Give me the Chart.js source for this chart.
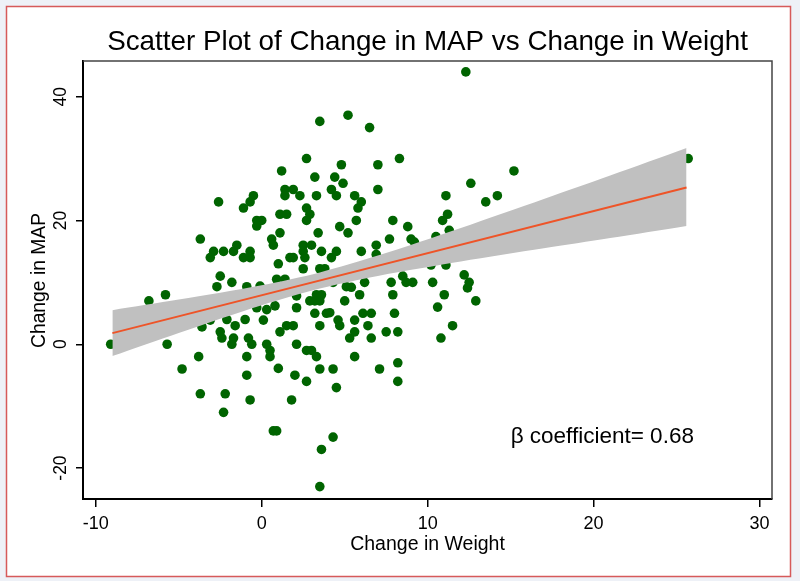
<!DOCTYPE html>
<html><head><meta charset="utf-8">
<script src="https://cdn.jsdelivr.net/npm/chart.js@4.4.0/dist/chart.umd.min.js"></script>
<style>html,body{margin:0;padding:0;background:#eef1f7;overflow:hidden}canvas{display:block}</style>
</head><body>
<canvas id="c" width="800" height="581"></canvas>
<script>
// ---- data ----
const weightChange = [
  3.5, 5.2, 6.5, 2.7, 4.8, 7.0, 8.3, 1.2, 3.2, 4.4, 4.9, 4.2, 4.5, 7.0, 1.4, 1.9, 1.4, 2.3, 3.3, 5.6,
  6.0, 5.8, -0.5, -0.7, -1.1, -2.6, 2.7, 2.9, 1.1, 1.5, 2.7, 5.7, 7.9, -0.3, 0.0, -0.3, 4.7, 5.2, 3.4, 1.1,
  0.6, 0.7, -3.7, 7.7, 6.9, 2.5, 3.0, -2.9, -2.3, -1.5, -1.7, -0.7, -1.1, -0.7, -3.1, 2.5, 3.6, 4.5, 4.2, 6.0,
  1.0, 1.7, 1.9, 2.6, 2.5, 3.5, 3.8, -2.5, -1.8, 6.2, 7.8, 0.9, 1.4, -2.7, -0.9, 5.1, 15.2, 12.6, 11.1, 14.2,
  13.5, 11.2, 10.9, 8.8, 9.0, 9.2, 11.3, 10.5, 12.3, 25.7, 10.2, 11.1, 12.2, 12.5, 10.3, 9.1, 8.5, 12.4, -9.1, -6.8,
  -5.8, -5.7, -4.8, -3.8, -3.7, -3.6, -3.1, -2.5, -2.4, -2.2, -2.3, -2.1, -1.8, -1.7, -1.6, -1.0, -0.9, -0.9, -0.8, -0.6,
  -0.7, 0.1, -0.3, 0.3, 0.5, 0.5, 1.0, 1.1, 1.5, 1.9, 0.7, 0.9, 1.8, 2.0, 2.1, 2.1, 2.7, 2.7, 3.0, 3.3,
  3.5, 3.5, 3.2, 3.9, 3.6, 3.5, 4.3, 4.3, 4.5, 4.6, 4.7, 5.0, 5.3, 5.6, 5.6, 5.6, 6.1, 6.6, 6.4, 6.6,
  5.9, 7.5, 7.1, 7.9, 8.0, 8.2, 8.2, 8.2, 11.0, 12.9, 10.6, 11.5, 10.8, 8.7, 5.4, 4.3, 4.1, -0.1, 2.1, 2.9,
  3.2, 3.5, 3.3, 3.6, 0.3, 0.8, 6.9
];
const mapChange = [
  36, 37, 35, 30, 29, 29, 30, 28, 27, 27, 26, 25, 24, 25, 25, 25, 24, 24, 24, 24,
  23, 22, 24, 23, 22, 23, 22, 21, 21, 21, 20, 20, 20, 20, 20, 19.1, 19, 18, 18, 18,
  17, 16, 17, 17, 16, 16, 16, 15, 15, 16, 15, 15, 14, 14, 14, 15, 15, 15, 14, 15,
  13, 14, 14, 14, 12.2, 12.2, 12.2, 11, 10, 10, 10, 10.5, 10.5, 9.3, 9.3, 9.3, 28, 26, 24, 24,
  23, 21, 20, 19, 17, 16.5, 18.4, 17.4, 44, 30, 12.8, 12.8, 11.2, 10, 10, 10, 11, 9.1, 0, 7,
  8, 0, -4, -2, -8, 2.8, 3.9, 2, 1, -8, -11, 4, 0, 1, 3, 4, -2, -5, 1, 0,
  -9, 3.9, 5.9, 0, -1, -2, -3.9, 2, 3, 3, -14, -14, -9, -5, 0, 5.9, -6, -1, -1, -2,
  -4, 3, 5, 5, -17, -23, -15, -4, -7, 3.9, 3, 7, 1, 2, 3.9, -2, 5, 5, 3, 1,
  8, 2, -4, 8, 5, 2, -3, -6, 8, 7, 6, 3, 1, 10, 9.2, 10, 5.1, 9.4, 7.8, 7,
  7, 7, 8, 8, 5.6, 6.2, 14.5
];
// fitted line and its confidence band, read at a few x positions
const fitX = [-9.0, 25.6];
const fitY = [1.8, 25.33];
const bandX = [-9.0, -5.0, 0.0, 3.5, 7.0, 12.0, 17.0, 21.0, 25.6];
const bandUpper = [5.5, 7.21, 9.54, 11.6, 14.32, 18.79, 23.47, 27.25, 31.7];
const bandLower = [-1.9, 1.83, 6.30, 9.0, 11.04, 13.37, 15.49, 17.15, 19.1];
const xTicks = [-10, 0, 10, 20, 30];
const yTicks = [-20, 0, 20, 40];
const titleText = 'Scatter Plot of Change in MAP vs Change in Weight';
const xTitle = 'Change in Weight';
const yTitle = 'Change in MAP';
const noteText = 'β coefficient= 0.68';
const notePos = [15, -15];

const FONT = "'Liberation Sans', Arial, Helvetica, sans-serif";

const points = weightChange.map((x, i) => ({x, y: mapChange[i]}));
const fitPts = fitX.map((x, i) => ({x, y: fitY[i]}));
const upPts = bandX.map((x, i) => ({x, y: bandUpper[i]}));
const loPts = bandX.map((x, i) => ({x, y: bandLower[i]}));

const decor = {
  id: 'decor',
  beforeDraw(chart) {
    const c = chart.ctx;
    c.save();
    c.fillStyle = '#eef1f7';
    c.fillRect(0, 0, 800, 581);
    c.fillStyle = '#ffffff';
    c.fillRect(6, 6, 785, 571);
    c.strokeStyle = '#d65a5a';
    c.lineWidth = 1.5;
    c.strokeRect(6.5, 6.5, 784, 570);
    c.restore();
  },
  beforeDatasetsDraw(chart) {
    const c = chart.ctx, a = chart.chartArea;
    c.save();
    c.strokeStyle = '#444';
    c.lineWidth = 1.5;
    c.beginPath();
    c.moveTo(a.left, a.top); c.lineTo(a.right, a.top); c.lineTo(a.right, a.bottom);
    c.stroke();
    c.restore();
  },
  afterDraw(chart) {
    const c = chart.ctx, a = chart.chartArea;
    const xs = chart.scales.x, ys = chart.scales.y;
    c.save();
    c.fillStyle = '#000';
    c.textAlign = 'center';
    c.textBaseline = 'alphabetic';
    c.font = '27.8px ' + FONT;
    c.fillText(titleText, (a.left + a.right) / 2, 50);
    c.font = '19.5px ' + FONT;
    c.fillText(xTitle, (a.left + a.right) / 2, 549.5);
    // y title rotated
    c.save();
    c.translate(45, 280.5);
    c.rotate(-Math.PI / 2);
    c.font = '19.3px ' + FONT;
    c.fillText(yTitle, 0, 0);
    c.restore();
    // y tick labels rotated
    c.font = '17.5px ' + FONT;
    ys.ticks.forEach(t => {
      const py = ys.getPixelForValue(t.value);
      c.save();
      c.translate(65.5, py);
      c.rotate(-Math.PI / 2);
      c.fillText(String(t.value), 0, 0);
      c.restore();
    });
    // annotation
    c.textAlign = 'left';
    c.textBaseline = 'middle';
    c.font = '22.5px ' + FONT;
    c.fillText(noteText, xs.getPixelForValue(notePos[0]), ys.getPixelForValue(notePos[1]));
    c.restore();
  }
};

new Chart(document.getElementById('c'), {
  type: 'scatter',
  data: {
    datasets: [
      {label: 'Fitted values', data: fitPts, showLine: true, borderColor: 'rgb(238,84,40)', borderWidth: 2,
       pointRadius: 0, fill: false},
      {label: '95% CI', data: upPts, showLine: true, borderWidth: 0, borderColor: 'rgba(0,0,0,0)',
       backgroundColor: '#c0c0c0', pointRadius: 0, fill: '+1', tension: 0.3},
      {label: 'lower', data: loPts, showLine: true, borderWidth: 0, borderColor: 'rgba(0,0,0,0)',
       pointRadius: 0, fill: false, tension: 0.3},
      {label: 'Change in MAP', data: points, backgroundColor: 'rgb(0,100,0)', borderWidth: 0,
       pointRadius: 4.8, pointHoverRadius: 4.8}
    ]
  },
  options: {
    responsive: false,
    animation: false,
    devicePixelRatio: 1,
    layout: {padding: {top: 61, right: 28, bottom: 0, left: 0}},
    plugins: {legend: {display: false}, tooltip: {enabled: false}, title: {display: false}},
    scales: {
      x: {
        type: 'linear', min: -10.77, max: 30.75,
        afterBuildTicks: s => { s.ticks = xTicks.map(v => ({value: v})); },
        afterFit: s => { s.height = 82; },
        grid: {display: true, drawOnChartArea: false, drawTicks: true, tickLength: 8, color: '#000', lineWidth: 1.5},
        border: {display: true, color: '#000', width: 2},
        ticks: {color: '#000', font: {family: FONT, size: 18}, padding: 6, maxRotation: 0, autoSkip: false}
      },
      y: {
        type: 'linear', min: -25, max: 45.76,
        afterBuildTicks: s => { s.ticks = yTicks.map(v => ({value: v})); },
        afterFit: s => { s.width = 83; },
        grid: {display: true, drawOnChartArea: false, drawTicks: true, tickLength: 7, color: '#000', lineWidth: 1.5},
        border: {display: true, color: '#000', width: 2},
        ticks: {display: false}
      }
    }
  },
  plugins: [decor]
});
</script>
</body></html>
